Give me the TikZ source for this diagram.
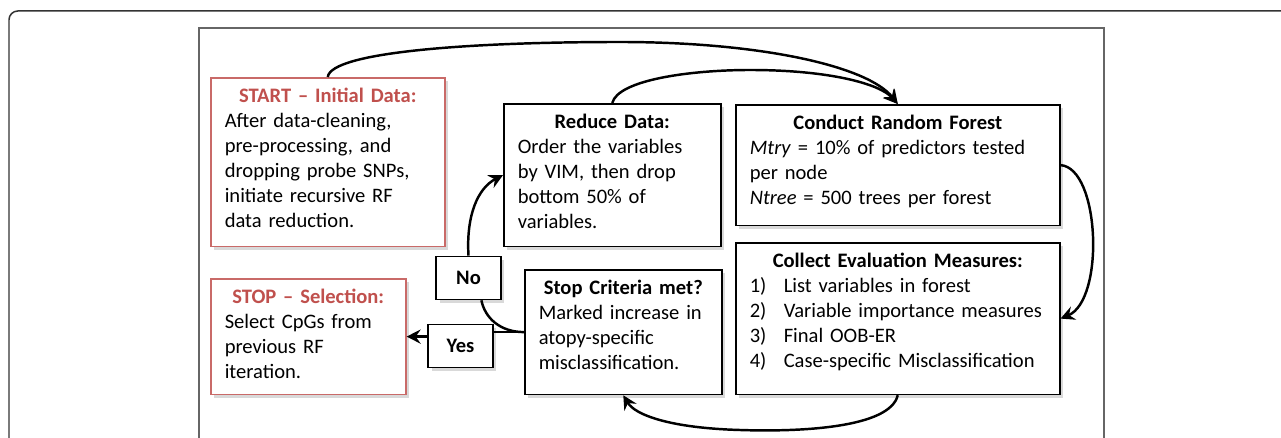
\documentclass[tikz,border=0pt]{standalone}
\usepackage{fontspec}
\setmainfont{Carlito}
\usetikzlibrary{arrows.meta,shadows,calc}
\definecolor{startred}{RGB}{192,80,77}
\newcommand{\titleline}[1]{\makebox[\linewidth]{\bfseries #1}}

\begin{document}
\begin{tikzpicture}
[x=0.02cm, y=-0.02cm,
 every node/.style={font=\fontsize{11.7}{14.2}\selectfont},
 box/.style={draw=black, line width=0.9pt, fill=white, anchor=north west, align=left,
   inner xsep=0.28cm, inner ysep=0.23cm, text height=0.75em,
   drop shadow={shadow xshift=0.07cm, shadow yshift=-0.07cm, opacity=0.3}},
 redbox/.style={box, draw=startred!85},
 tag/.style={draw=black, line width=0.9pt, fill=white, inner sep=0pt,
   minimum width=1.3cm, minimum height=0.86cm,
   font=\fontsize{11.7}{14.2}\selectfont\bfseries,
   drop shadow={shadow xshift=0.07cm, shadow yshift=-0.07cm, opacity=0.3}},
 flow/.style={line width=1.4pt, -{Stealth[length=8pt, width=8pt, inset=2.8pt]}},
 plain/.style={line width=1.4pt}]

\clip (0,0) rectangle (1281,438);
\draw[black!80, line width=0.85pt, rounded corners=5pt] (9,11) rectangle (1330,480);
\draw[black!60, line width=0.6pt] (199,28) rectangle (1104,480);

\node[redbox, text width=4.12cm, text depth=2.65cm] (start) at (210,77)
{\titleline{\color{startred}START -- Initial Data:}\\
After data-cleaning,\\ pre-processing, and\\ dropping probe SNPs,\\ initiate recursive RF\\ data reduction.};

\node[redbox, text width=3.34cm, text depth=1.59cm] (stop) at (210,278)
{\titleline{\color{startred}STOP -- Selection:}\\
Select CpGs from\\ previous RF\\ iteration.};

\node[box, text width=3.78cm, text depth=2.13cm] (reduce) at (503,103)
{\titleline{Reduce Data:}\\
Order the variables\\ by VIM, then drop\\ bottom 50\% of\\ variables.};

\node[box, text width=3.38cm, text depth=1.77cm] (stopc) at (524,269)
{\titleline{Stop Criteria met?}\\
Marked increase in\\ atopy-specific\\ misclassification.};

\node[box, text width=5.92cm, text depth=1.69cm] (conduct) at (735,104)
{\titleline{Conduct Random Forest}\\
\textit{Mtry} = 10\% of predictors tested\\ per node\\ \textit{Ntree} = 500 trees per forest};

\node[box, text width=5.92cm, text depth=2.31cm] (collect) at (735,242)
{\titleline{Collect Evaluation Measures:}\\
\makebox[0.68cm][l]{1)}List variables in forest\\
\makebox[0.68cm][l]{2)}Variable importance measures\\
\makebox[0.68cm][l]{3)}Final OOB-ER\\
\makebox[0.68cm][l]{4)}Case-specific Misclassification};

\node[tag] (no) at (468.5,278) {No};
\node[tag] (yes) at (460.5,346) {Yes};

% loop
\draw[flow] (start.north) .. controls (331,52) and (470,42) .. (620,42)
  .. controls (760,42) and (868,66) .. (conduct.north);
\draw[flow] (reduce.north) .. controls (618,80) and (690,70) .. (750,70)
  .. controls (830,70) and (880,84) .. (conduct.north);
\draw[flow] (conduct.east) .. controls (1100,168) and (1105,300) .. (collect.east);
\draw[flow] (collect.south) .. controls (890,428) and (800,432) .. (740,430)
  .. controls (670,428) and (635,415) .. (stopc.south);

% decision
\draw[plain] (stopc.west) .. controls (500,332) and (485,318) .. (no.-60);
\draw[flow] (no.north) .. controls (466,215) and (478,188) .. (reduce.west);
\draw[plain] (stopc.west) -- (stopc.west -| yes.east);
\draw[flow] (stop.east -| yes.west) -- (stop.east);
\end{tikzpicture}
\end{document}
